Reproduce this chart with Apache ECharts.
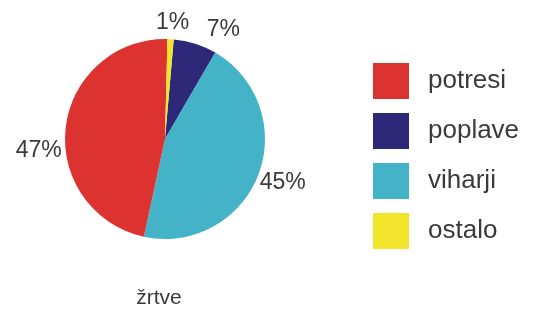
<!DOCTYPE html>
<html>
<head>
<meta charset="utf-8">
<script src="https://cdn.jsdelivr.net/npm/echarts@6/dist/echarts.min.js"></script>
<style>html,body{margin:0;padding:0;background:#fff;}#c{width:534px;height:310px;}</style>
</head>
<body>
<div id="c"></div>
<script>
var categories = ['poplave', 'viharji', 'potresi', 'ostalo'];
var values = [7, 45, 47, 1];
var legendOrder = ['potresi', 'poplave', 'viharji', 'ostalo'];
var colors = {potresi: '#dc3330', poplave: '#2e2878', viharji: '#45b3c7', ostalo: '#f3e52c'};
var title = 'žrtve';
// label nudges (dx, dy) to mimic the original label placement
var labelNudge = [[-28, -27], [-11, 5], [9, 24], [-20, -9]];

var chart = echarts.init(document.getElementById('c'), null, {renderer: 'canvas'});
chart.setOption({
  animation: false,
  backgroundColor: '#ffffff',
  title: {
    text: title, left: 159, top: 288, textAlign: 'center', padding: 0,
    textStyle: {fontFamily: 'Liberation Sans', fontSize: 21, fontWeight: 'normal', color: '#3a3a3a'}
  },
  legend: {
    orient: 'vertical', left: 373, top: 63, padding: 0,
    data: legendOrder, icon: 'rect',
    itemWidth: 36, itemHeight: 36, itemGap: 14,
    textStyle: {fontFamily: 'Liberation Sans', fontSize: 26, color: '#3a3a3a', padding: [0, 0, 0, 14]}
  },
  series: [{
    type: 'pie',
    center: [165, 139],
    radius: 100,
    startAngle: 85,
    clockwise: true,
    data: categories.map(function (c, i) {
      return {name: c, value: values[i], itemStyle: {color: colors[c]}};
    }),
    label: {
      show: true, position: 'outside', formatter: '{c}%', overflow: 'none',
      fontFamily: 'Liberation Sans', fontSize: 23, color: '#3a3a3a'
    },
    labelLine: {show: false, length: 8, length2: 0},
    labelLayout: function (p) {
      return {dx: labelNudge[p.dataIndex][0], dy: labelNudge[p.dataIndex][1]};
    },
    emphasis: {disabled: true}
  }]
});
</script>
</body>
</html>
